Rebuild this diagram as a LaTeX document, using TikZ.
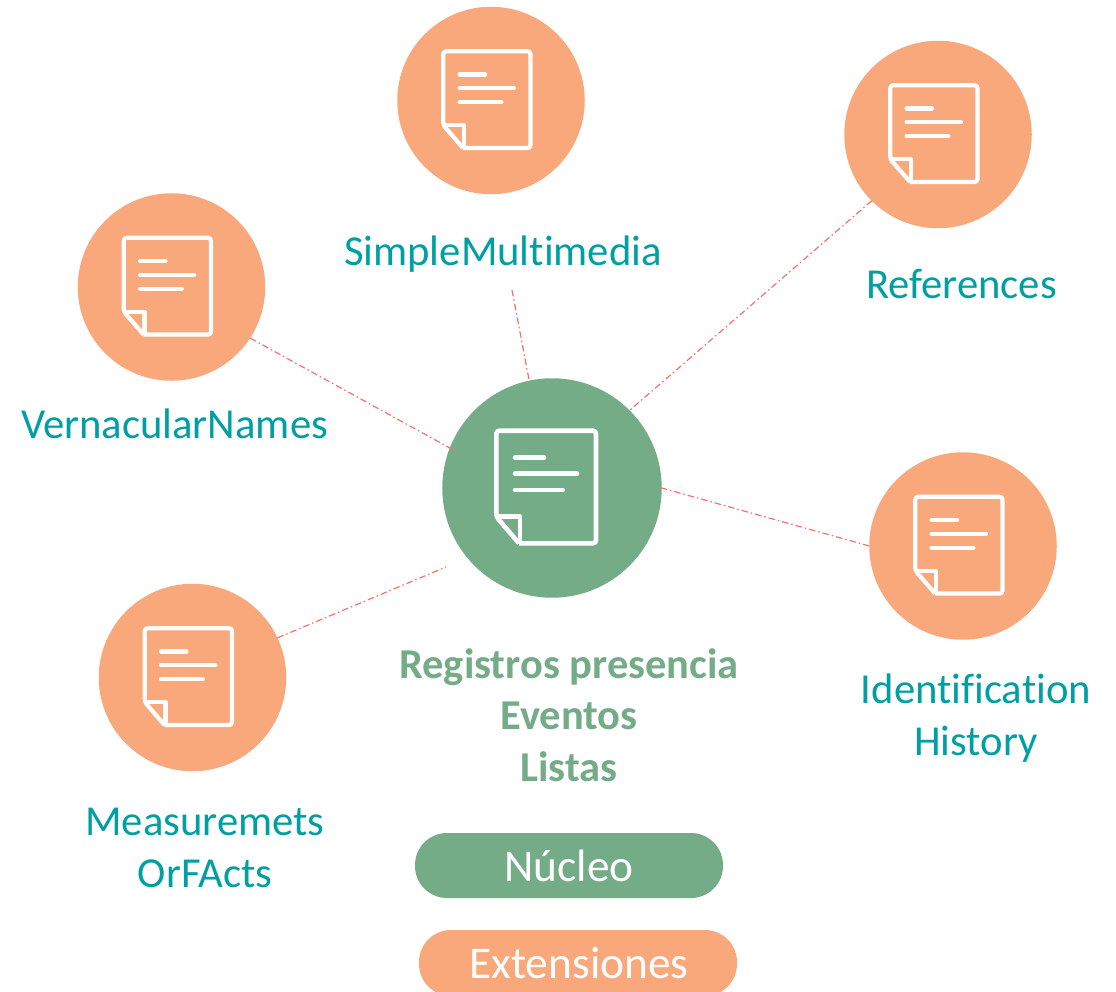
\documentclass[tikz,border=0pt]{standalone}
\usepackage{fontspec}
\setmainfont[Ligatures=NoCommon]{Carlito}
\definecolor{coregreen}{HTML}{75AC88}
\definecolor{extorange}{HTML}{F9A87C}
\definecolor{labelteal}{HTML}{009FA3}
\definecolor{linkred}{HTML}{FA6F68}

\tikzset{
  doc icon/.pic={
    \draw[white,rounded corners=3pt,line join=round] (-33,55.3) -- (44,55.3) -- (44,-57.3) -- (-55.7,-57.3) -- (-55.7,28.7) [sharp corners] -- (-33,55.3);
    \draw[white,line join=round] (-55.7,28.7) -- (-32,28.7) -- (-32,55.3);
    \draw[white,line cap=round] (-37,-30.3) -- (-8,-30.3);
    \draw[white,line cap=round] (-37,-14.3) -- (25,-14.3);
    \draw[white,line cap=round] (-37,2) -- (10.7,2);
  }
}

\begin{document}
\begin{tikzpicture}[x=1pt,y=-1pt,
  core node/.style={circle,fill=coregreen,minimum size=219.5pt,inner sep=0pt,outer sep=0pt},
  ext node/.style={circle,fill=extorange,minimum size=187.5pt,inner sep=0pt,outer sep=0pt},
  ext label/.style={text=labelteal,font=\fontsize{42.7}{52}\selectfont,align=center},
  core label/.style={text=coregreen,font=\fontsize{42.5}{51.5}\selectfont\bfseries,align=center},
  key pill/.style={rounded corners=32pt,inner sep=0pt,outer sep=0pt,text=white,font=\fontsize{45.4}{48}\selectfont},
  link/.style={draw=linkred,line width=1.2pt,dash pattern=on 6.5pt off 3pt on 1.5pt off 3pt}]

  \useasboundingbox (0,0) rectangle (1116,992);

  \coordinate (mediaend) at (512,290);
  \coordinate (namesend) at (459,453);
  \coordinate (factsend) at (446,567);

  \node[core node] (core) at (552,488) {};
  \node[ext node] (media) at (491,100.5) {};
  \node[ext node] (refs) at (938,134.5) {};
  \node[ext node] (names) at (171.5,287) {};
  \node[ext node] (idhist) at (963,546) {};
  \node[ext node] (facts) at (192.5,677.5) {};

  \path[link]
    (mediaend) edge (core.102.5)
    (refs.225) edge (core.45)
    (names.327) edge (namesend)
    (facts.25) edge (factsend)
    (idhist.west) edge (core.east);

  \pic[line width=4.6pt] at (core) {doc icon};
  \pic[xshift=1pt,xscale=.875,yscale=.86,line width=4.2pt] at (media) {doc icon};
  \pic[xshift=1pt,xscale=.875,yscale=.86,line width=4.2pt] at (refs) {doc icon};
  \pic[xshift=1pt,xscale=.875,yscale=.86,line width=4.2pt] at (names) {doc icon};
  \pic[xshift=1pt,xscale=.875,yscale=.86,line width=4.2pt] at (idhist) {doc icon};
  \pic[xshift=1pt,xscale=.875,yscale=.86,line width=4.2pt] at (facts) {doc icon};

  \node[ext label] (medialabel) at (503,254) {SimpleMultimedia};
  \node[ext label] (refslabel) at (961.5,284) {References};
  \node[ext label] (nameslabel) at (174.5,424) {VernacularNames};
  \node[ext label] (idhistlabel) at (976,718.5) {Identification\\History};
  \node[ext label] (factslabel) at (205,847.5) {Measuremets\\OrFActs};
  \node[core label] (corelabel) at (569,715) {Registros presencia\\Eventos\\Listas};

  \node[key pill,fill=coregreen,minimum width=308pt,minimum height=65pt] (nucleo) at (569,865.5) {Núcleo};
  \node[key pill,fill=extorange,minimum width=318pt,minimum height=66pt] (extens) at (578,963) {\hspace{2pt}Extensiones};
\end{tikzpicture}
\end{document}
